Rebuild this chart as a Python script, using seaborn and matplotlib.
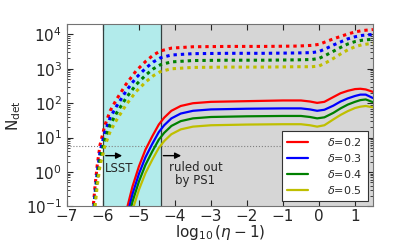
import numpy as np
import pandas as pd
import matplotlib
matplotlib.use("Agg")
import matplotlib.pyplot as plt
import seaborn as sns

# delta values and colours
deltas = ["0.2", "0.3", "0.4", "0.5"]
colors = ["r", "b", "g", "y"]

# dotted curves (log10 N)
x_dot = [-6.32, -6.27, -6.22, -6.16, -6.08, -5.95, -5.8, -5.63, -5.36, -5.08, -4.8, -4.6, -4.4,
         -4.1, -3.5, -2.5, -1.5, -0.6, -0.2, 0.0, 0.2, 0.4, 0.6, 0.8, 1.0, 1.2, 1.5]
dot_02 = [-2.0, -1.0, -0.4, 0.2, 0.8, 1.35, 1.78, 2.1, 2.55, 2.94, 3.23, 3.4, 3.52,
          3.6, 3.64, 3.65, 3.65, 3.66, 3.68, 3.71, 3.79, 3.87, 3.94, 4.01, 4.07, 4.11, 4.14]
dot_03 = [-2.2, -1.2, -0.6, 0.0, 0.6, 1.15, 1.58, 1.9, 2.35, 2.74, 3.03, 3.2, 3.32,
          3.4, 3.44, 3.45, 3.45, 3.46, 3.47, 3.50, 3.59, 3.69, 3.78, 3.87, 3.93, 3.97, 4.0]
dot_04 = [-2.4, -1.4, -0.8, -0.2, 0.4, 0.95, 1.38, 1.7, 2.15, 2.54, 2.83, 3.0, 3.12,
          3.2, 3.24, 3.25, 3.25, 3.26, 3.27, 3.30, 3.40, 3.51, 3.62, 3.72, 3.79, 3.83, 3.86]
dot_05 = [-2.6, -1.6, -1.0, -0.4, 0.2, 0.75, 1.18, 1.5, 1.95, 2.34, 2.63, 2.8, 2.92,
          3.0, 3.04, 3.05, 3.05, 3.06, 3.06, 3.08, 3.18, 3.30, 3.43, 3.55, 3.64, 3.70, 3.74]

# solid curves (log10 N)
x_sol = [-5.45, -5.32, -5.18, -5.0, -4.82, -4.63, -4.45, -4.3, -4.1, -3.84, -3.5, -3.0, -2.0,
         -1.0, -0.5, -0.25, -0.05, 0.15, 0.4, 0.6, 0.8, 1.0, 1.15, 1.3, 1.5]
sol_02 = [-1.7, -1.0, -0.42, 0.17, 0.65, 1.04, 1.38, 1.58, 1.78, 1.92, 2.0, 2.04, 2.06,
          2.08, 2.08, 2.05, 2.01, 2.04, 2.18, 2.29, 2.36, 2.41, 2.42, 2.40, 2.33]
sol_03 = [-1.92, -1.22, -0.64, -0.05, 0.43, 0.82, 1.16, 1.36, 1.56, 1.70, 1.78, 1.82, 1.84,
          1.85, 1.85, 1.82, 1.78, 1.81, 1.93, 2.05, 2.14, 2.21, 2.25, 2.25, 2.15]
sol_04 = [-2.14, -1.44, -0.86, -0.27, 0.21, 0.60, 0.94, 1.14, 1.34, 1.48, 1.56, 1.60, 1.62,
          1.63, 1.63, 1.60, 1.56, 1.59, 1.72, 1.85, 1.96, 2.04, 2.09, 2.11, 2.03]
sol_05 = [-2.38, -1.68, -1.10, -0.51, -0.03, 0.36, 0.70, 0.90, 1.10, 1.24, 1.32, 1.36, 1.38,
          1.39, 1.39, 1.36, 1.32, 1.36, 1.53, 1.66, 1.77, 1.86, 1.90, 1.92, 1.88]

dotted = [dot_02, dot_03, dot_04, dot_05]
solid = [sol_02, sol_03, sol_04, sol_05]

lsst_edge = -6.0
ps1_edge = -4.4
n_thresh = 5.8

sns.set_style("ticks", {"xtick.direction": "in", "ytick.direction": "in"})

fig = plt.figure(figsize=(4.15, 2.42), dpi=100)
ax = fig.add_axes([0.1614, 0.1467, 0.7373, 0.7541])

ax.axvspan(lsst_edge, ps1_edge, color="#b2ebeb", lw=0, zorder=0)
ax.axvspan(ps1_edge, 1.5, color="#d6d6d6", lw=0, zorder=0)
ax.axvline(lsst_edge, color="#333f3f", lw=0.9, zorder=1)
ax.axvline(ps1_edge, color="#333f3f", lw=0.9, zorder=1)
ax.axhline(n_thresh, color="gray", ls=":", lw=0.8, zorder=1)

for d, c, yd, ys in zip(deltas, colors, dotted, solid):
    df_d = pd.DataFrame({"x": x_dot, "N": 10 ** np.array(yd)})
    df_s = pd.DataFrame({"x": x_sol, "N": 10 ** np.array(ys)})
    sns.lineplot(data=df_d, x="x", y="N", color=c, lw=2.2, ax=ax,
                 linestyle=(0, (1.1, 1.3)), sort=False, estimator=None)
    sns.lineplot(data=df_s, x="x", y="N", color=c, lw=1.6, ax=ax,
                 sort=False, estimator=None, label=r"$\delta$=" + d)

ax.set_yscale("log")
ax.set_xlim(-7, 1.5)
ax.set_ylim(0.1, 2e4)
ax.set_xticks(range(-7, 2))
ax.set_xticklabels([f"\u2212{abs(v)}" if v < 0 else str(v) for v in range(-7, 2)])
ax.tick_params(which="both", top=True, right=True, direction="in", labelsize=11)
ax.tick_params(axis="x", pad=2)
ax.tick_params(which="major", length=4)
ax.tick_params(which="minor", length=2)
for s in ax.spines.values():
    s.set_color("0.45")

ax.annotate("", xy=(-5.39, 3.0), xytext=(lsst_edge, 3.0),
            arrowprops=dict(arrowstyle="-|>", color="k", lw=1, mutation_scale=9))
ax.annotate("", xy=(-3.75, 3.0), xytext=(ps1_edge, 3.0),
            arrowprops=dict(arrowstyle="-|>", color="k", lw=1, mutation_scale=9))
ax.text(-5.95, 1.25, "LSST", ha="left", va="center", fontsize=8.5)
ax.text(-3.43, 0.88, "ruled out\nby PS1", ha="center", va="center", fontsize=8.5,
        multialignment="center", linespacing=1.0)

ax.set_xlabel(r"$\log_{10}(\eta-1)$", fontsize=11, labelpad=-1)
ax.set_ylabel(r"$\mathrm{N_{det}}$", fontsize=11, labelpad=2)

leg = ax.legend(loc="lower right", fontsize=8, frameon=True, fancybox=False,
                handlelength=1.9, handletextpad=1.7, labelspacing=0.35,
                borderaxespad=0.45, borderpad=0.5)
leg.get_frame().set_edgecolor("0.2")
leg.get_frame().set_linewidth(0.8)
leg.get_frame().set_alpha(1)

fig.savefig("out.png", dpi=100)
